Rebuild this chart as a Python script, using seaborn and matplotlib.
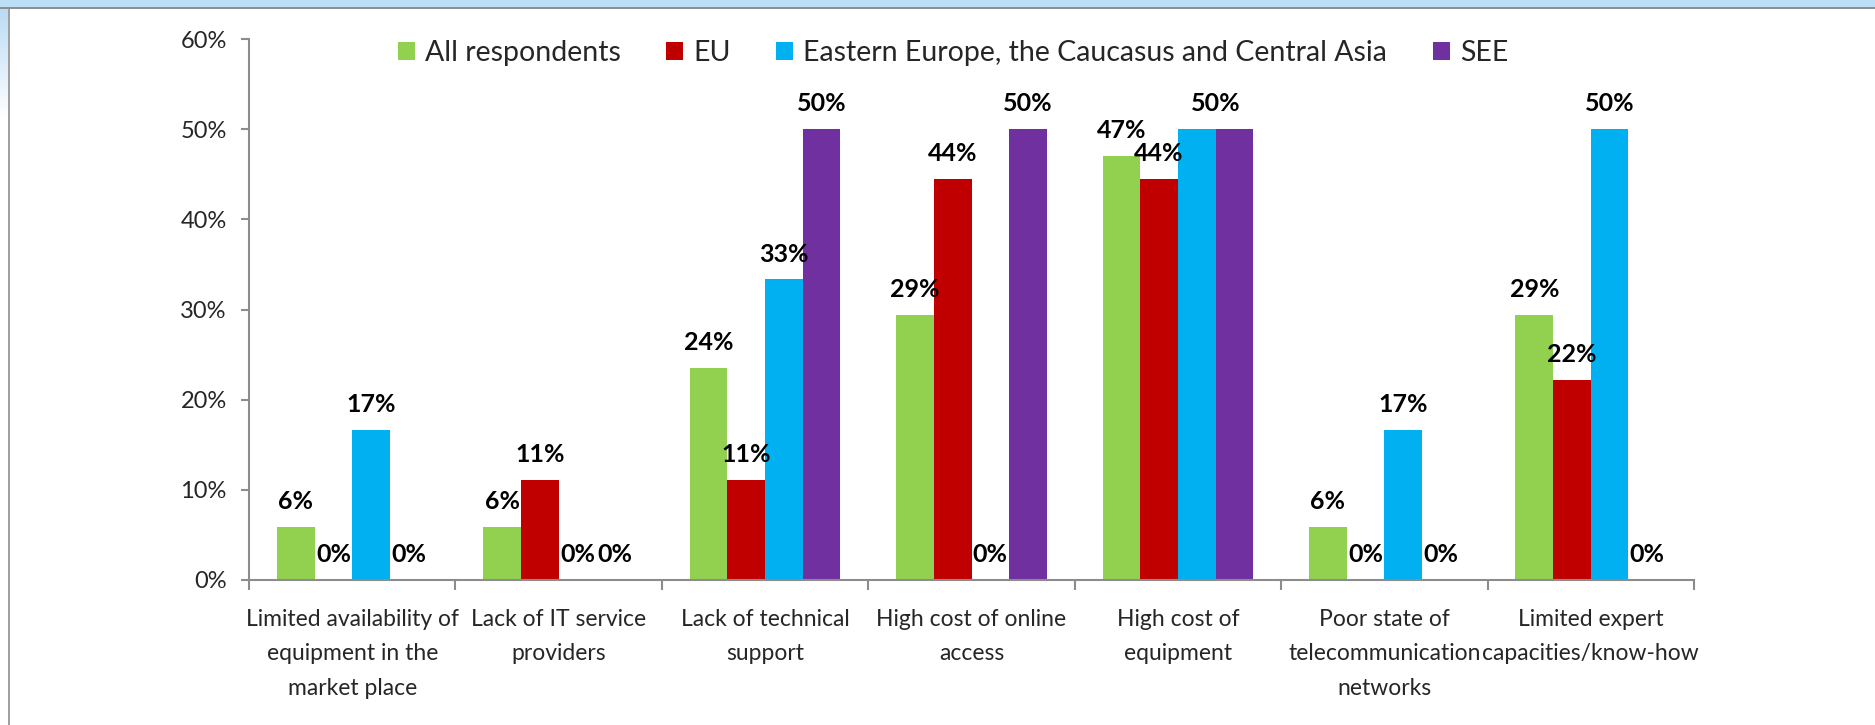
import numpy as np
import pandas as pd
import matplotlib
matplotlib.use("Agg")
import matplotlib.pyplot as plt
from matplotlib import font_manager
from matplotlib.patches import Rectangle
from matplotlib.ticker import FixedLocator, FuncFormatter
import seaborn as sns

# ---- data -------------------------------------------------------------
categories = [
    "Limited availability of\nequipment in the\nmarket place",
    "Lack of IT service\nproviders",
    "Lack of technical\nsupport",
    "High cost of online\naccess",
    "High cost of\nequipment",
    "Poor state of\ntelecommunication\nnetworks",
    "Limited expert\ncapacities/know-how",
]
groups = ["All respondents", "EU",
          "Eastern Europe, the Caucasus and Central Asia", "SEE"]
all_respondents = [5.88, 5.88, 23.53, 29.41, 47.06, 5.88, 29.41]
eu = [0.0, 11.11, 11.11, 44.44, 44.44, 0.0, 22.22]
eeca = [16.67, 0.0, 33.33, 0.0, 50.0, 16.67, 50.0]
see = [0.0, 0.0, 50.0, 50.0, 50.0, 0.0, 0.0]
colors = ["#92D050", "#C00000", "#00B0F0", "#7030A0"]
y_ticks = [0, 10, 20, 30, 40, 50, 60]

series = [all_respondents, eu, eeca, see]
df = pd.DataFrame({
    "category": np.tile(categories, len(groups)),
    "group": np.repeat(groups, len(categories)),
    "value": np.concatenate(series),
})

# ---- fonts ------------------------------------------------------------
sns.set_style("white")


def pick_font(names):
    for n in names:
        try:
            font_manager.findfont(font_manager.FontProperties(family=n),
                                  fallback_to_default=False)
            return n
        except Exception:
            continue
    return "DejaVu Sans"


base_font = pick_font(["Liberation Sans Narrow", "Lato", "Liberation Sans"])
plt.rcParams["font.family"] = [base_font, "DejaVu Sans"]

axis_grey = "#8C8C8C"

# ---- figure -----------------------------------------------------------
fig = plt.figure(figsize=(18.75, 7.25), dpi=100)
W, H = 1875.0, 725.0

# window-style frame: blue strip on top, grey rules, fading blue margin
left_strip = fig.add_axes([0, 0, 8 / W, 1 - 7 / H], zorder=-2)
cmap = matplotlib.colors.LinearSegmentedColormap.from_list(
    "fade", ["#B9DBF5", "#FFFFFF"])
grad_img = np.concatenate([np.linspace(0, 1, 40), np.ones(216)]).reshape(-1, 1)
left_strip.imshow(grad_img, aspect="auto", cmap=cmap, vmin=0, vmax=1)
left_strip.set_axis_off()

fig.add_artist(Rectangle((0, 1 - 7 / H), 1, 7 / H, transform=fig.transFigure,
                         facecolor="#BCDFF6", edgecolor="none", zorder=-1))
fig.add_artist(Rectangle((0, 1 - 9 / H), 1, 2 / H, transform=fig.transFigure,
                         facecolor="#8F8F8F", edgecolor="none", zorder=0))
fig.add_artist(Rectangle((8 / W, 0), 1.5 / W, 1 - 9 / H,
                         transform=fig.transFigure,
                         facecolor="#A0A0A0", edgecolor="none", zorder=0))

ax = fig.add_axes([249 / W, 1 - 580 / H, (1694 - 249) / W, (580 - 39) / H])

sns.barplot(data=df, x="category", y="value", hue="group",
            hue_order=groups, order=categories, palette=colors,
            width=0.73, saturation=1, gap=0, ax=ax, errorbar=None,
            edgecolor="none", linewidth=0)

handles, labels = ax.get_legend_handles_labels()
if ax.legend_ is not None:
    ax.legend_.remove()

# value labels above each bar; where the two 50% bars of "High cost of
# equipment" touch, a single label sits over their shared edge
shared_idx = 4
for g, (cont, vals) in enumerate(zip(ax.containers, series)):
    for i, (patch, v) in enumerate(zip(cont.patches, vals)):
        x = patch.get_x() + patch.get_width() / 2
        if i == shared_idx and g == 3:
            continue
        if i == shared_idx and g == 2:
            x = patch.get_x() + patch.get_width()
        ax.annotate(f"{v:.0f}%", xy=(x, patch.get_height()),
                    xytext=(0, 10), textcoords="offset points",
                    ha="center", va="bottom", fontsize=18,
                    fontweight="bold", color="black")

# axes styling
ax.set_xlim(-0.5, len(categories) - 0.5)
ax.set_ylim(0, 60)
ax.set_xlabel("")
ax.set_ylabel("")
ax.yaxis.set_major_locator(FixedLocator(y_ticks))
ax.yaxis.set_major_formatter(FuncFormatter(lambda v, p: f"{v:.0f}%"))
for side in ("top", "right"):
    ax.spines[side].set_visible(False)
for side in ("left", "bottom"):
    ax.spines[side].set_color(axis_grey)
    ax.spines[side].set_linewidth(1.5)

ax.tick_params(axis="y", which="major", direction="out", length=6,
               width=1.5, color=axis_grey, pad=10, labelsize=17,
               left=True)
ax.set_xticks(np.arange(len(categories)))
ax.set_xticklabels(categories, linespacing=1.78)
ax.set_xticks(np.arange(-0.5, len(categories)), minor=True)
ax.tick_params(axis="x", which="major", length=0, pad=21, labelsize=16.5,
               bottom=True)
ax.tick_params(axis="x", which="minor", direction="out", length=7,
               width=1.5, color=axis_grey, bottom=True)
ax.grid(False)

fig.legend(handles, labels, loc="center", ncol=4, frameon=False,
           bbox_to_anchor=(953 / W, 1 - 53 / H), fontsize=20.5,
           handlelength=0.6, handleheight=0.6, handletextpad=0.35,
           columnspacing=1.6, borderaxespad=0)

fig.savefig("out.png", dpi=100, facecolor="white")
